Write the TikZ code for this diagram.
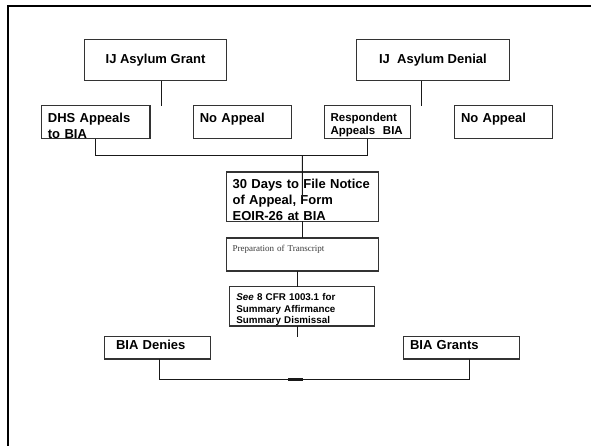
\documentclass[tikz,border=0pt]{standalone}
\usepackage{fontspec}
\setmainfont{Liberation Sans}
\newfontfamily\transfont{Liberation Serif}
\usetikzlibrary{positioning}
\definecolor{boxline}{HTML}{333333}
\definecolor{prepgray}{HTML}{3A3A3A}
\tikzset{
    headbox/.style = {rectangle, draw=boxline, line width=1.1pt, outer sep=0pt, minimum height=41.4pt, align=center, font=\bfseries\fontsize{13}{16}\selectfont},
    flowbox/.style = {rectangle, draw=boxline, line width=1.1pt, outer sep=0pt, inner ysep=0pt, inner xsep=6.4pt, align=left, font=\bfseries\fontsize{13}{16}\selectfont},
    smallbox/.style = {flowbox, font=\bfseries\fontsize{11.5}{13.5}\selectfont},
    notebox/.style = {flowbox, font=\bfseries\fontsize{9.8}{11.5}\selectfont},
    prepbox/.style = {flowbox, font=\transfont\fontsize{9}{11}\selectfont, text=prepgray},
    line/.style = {draw=black!90, line width=0.9pt},
    frame/.style = {draw=black, line width=2.2pt}
}

\begin{document}
\begin{tikzpicture}[x=1pt, y=-1pt]
\useasboundingbox (0,0) rectangle (591,445);
\draw [frame] (8,446) -- (8,6) -- (592,6);

\node (grant) [headbox, minimum width=141.4pt] at (155.5,60) {IJ Asylum Grant};
\node (denial) [headbox, minimum width=152.6pt] at (432.9,60) {IJ\ \ Asylum Denial};
\node (dhs) [flowbox, anchor=north west, text width=95.7pt, text height=16.3pt, text depth=16.7pt] at (41.5,105.7) {DHS Appeals\\to BIA};
\node (noleft) [flowbox, anchor=north west, text width=85.2pt, text height=16.3pt, text depth=16.7pt] at (193.4,105.7) {No Appeal};
\node (resp) [smallbox, anchor=north west, text width=73.9pt, text height=15.5pt, text depth=17.5pt] at (324.2,105.7) {Respondent\\Appeals\ \ BIA};
\node (noright) [flowbox, anchor=north west, text width=85.2pt, text height=16.3pt, text depth=16.7pt] at (454.6,105.7) {No Appeal};
\node (days) [flowbox, anchor=north west, text width=139.4pt, text height=16pt, text depth=33.3pt] at (226.2,172) {30 Days to File Notice\\of Appeal, Form\\EOIR-26 at BIA};
\node (prep) [prepbox, below of=days, node distance=57.85pt, text width=139.4pt, text height=13pt, text depth=20pt] {Preparation of Transcript};
\node (see) [notebox, below of=prep, node distance=51.85pt, text width=132pt, text height=13.8pt, text depth=25.5pt] {\textit{See} 8 CFR 1003.1 for\\Summary Affirmance\\Summary Dismissal};
\node (denies) [flowbox, anchor=north west, inner xsep=11.6pt, text width=82.8pt, text height=12.5pt, text depth=10pt] at (104.4,336.5) {BIA Denies};
\node (grants) [flowbox, anchor=north west, inner xsep=6.7pt, text width=102.6pt, text height=12.5pt, text depth=10pt] at (403.3,336.5) {BIA Grants};

\coordinate (join) at (302.3,155.3);
\coordinate (base) at (295.4,379.3);

\draw [line] ([xshift=5.8pt]grant.south) -- ([xshift=5.8pt]grant.south |- dhs.north);
\draw [line] ([xshift=-11.5pt]denial.south) -- ([xshift=-11.5pt]denial.south |- resp.north);
\draw [line] (dhs.south) |- (join) -| (resp.south);
\draw [line] (join) -- ([yshift=-25pt]days.north);
\draw [line] (days.south) -- (prep.north);
\draw [line] ([xshift=-4.5pt]prep.south) -- ([xshift=-4.5pt]prep.south |- see.north);
\draw [line] ([xshift=-4.5pt]see.south) -- ([xshift=-4.5pt]see.south |- denies.north);
\draw [line] ([xshift=2.4pt]denies.south) |- (base) -| ([xshift=8.3pt]grants.south);
\draw [line, line width=2.4pt] ([xshift=-7pt]base) -- ([xshift=8pt]base);
\end{tikzpicture}
\end{document}
